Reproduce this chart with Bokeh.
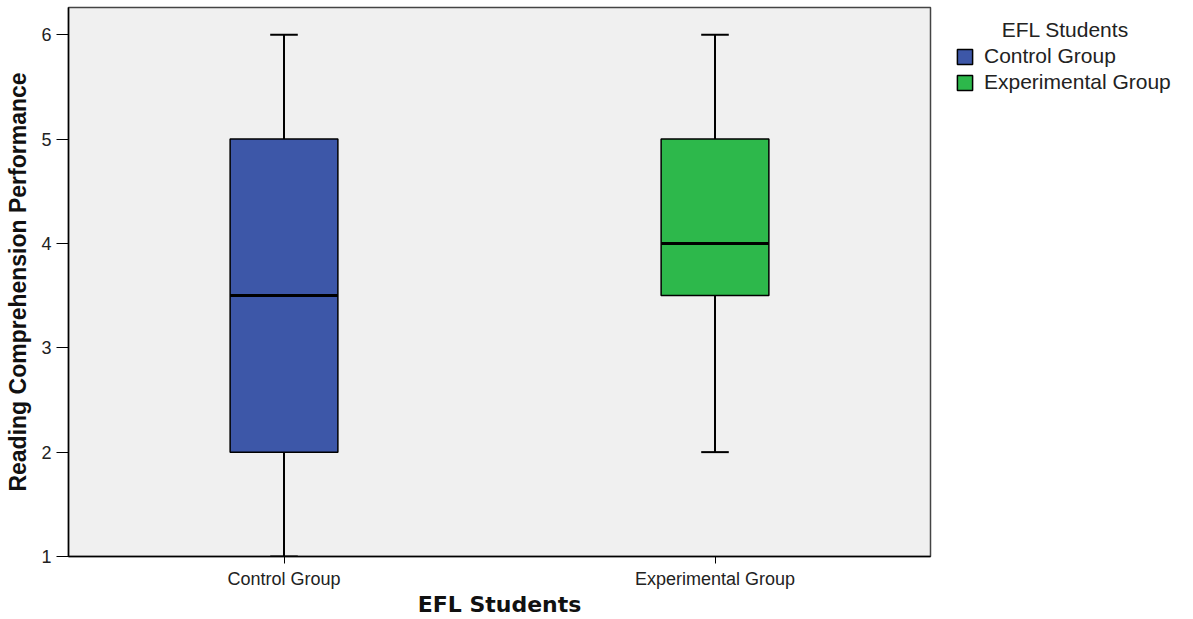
from bokeh.plotting import figure
from bokeh.models import ColumnDataSource, Legend, LegendItem, FactorRange, FixedTicker
from bokeh.transform import dodge
from bokeh.embed import file_html
from bokeh.resources import INLINE

groups = ["Control Group", "Experimental Group"]
mins = [1, 2]
q1s = [2, 3.5]
medians = [3.5, 4]
q3s = [5, 5]
maxs = [6, 6]
colors = ["#3D57A8", "#2DB84B"]
y_ticks = [1, 2, 3, 4, 5, 6]
legend_title = "EFL Students"

src = ColumnDataSource(dict(g=groups, mn=mins, q1=q1s, md=medians, q3=q3s, mx=maxs, c=colors))

p = figure(width=1193, height=619, frame_width=862, frame_height=549,
           x_range=FactorRange(*groups), y_range=(1, 6.26),
           output_backend="svg", toolbar_location=None,
           min_border_left=68, min_border_right=263, min_border_top=7, min_border_bottom=63)
p.background_fill_color = "#F0F0F0"
p.border_fill_color = "white"
p.outline_line_color = "#444444"
p.outline_line_width = 1.5
p.grid.visible = False

# whiskers
p.segment(x0="g", y0="q3", x1="g", y1="mx", source=src, line_color="black", line_width=2)
p.segment(x0="g", y0="mn", x1="g", y1="q1", source=src, line_color="black", line_width=2)
# caps
p.segment(x0=dodge("g", -0.032, range=p.x_range), y0="mx", x1=dodge("g", 0.032, range=p.x_range), y1="mx",
          source=src, line_color="black", line_width=2)
p.segment(x0=dodge("g", -0.032, range=p.x_range), y0="mn", x1=dodge("g", 0.032, range=p.x_range), y1="mn",
          source=src, line_color="black", line_width=2)
# boxes
boxes = []
for i, g in enumerate(groups):
    r = p.vbar(x=[g], bottom=[q1s[i]], top=[q3s[i]], width=0.25, fill_color=colors[i],
               line_color="black", line_width=1.5)
    boxes.append(r)
# medians
p.segment(x0=dodge("g", -0.125, range=p.x_range), y0="md", x1=dodge("g", 0.125, range=p.x_range), y1="md",
          source=src, line_color="black", line_width=3)

# axes
p.yaxis.ticker = FixedTicker(ticks=y_ticks)
p.yaxis.minor_tick_line_color = None
p.yaxis.major_tick_in = 0
p.yaxis.major_tick_out = 12
p.yaxis.major_label_standoff = 5
p.yaxis.axis_line_color = "black"
p.yaxis.axis_line_width = 1.5
p.yaxis.major_label_text_font = "Liberation Sans"
p.yaxis.major_label_text_font_size = "18px"
p.yaxis.major_label_text_color = "#222222"
p.yaxis.axis_label = "Reading Comprehension Performance"
p.yaxis.axis_label_text_font = "Liberation Sans"
p.yaxis.axis_label_text_font_style = "bold"
p.yaxis.axis_label_text_font_size = "23px"
p.yaxis.axis_label_text_color = "#111111"
p.yaxis.axis_label_standoff = 7

p.xaxis.major_tick_in = 0
p.xaxis.major_tick_out = 7
p.xaxis.major_label_standoff = 5
p.xaxis.axis_line_color = "black"
p.xaxis.axis_line_width = 1.5
p.xaxis.major_label_text_font = "Liberation Sans"
p.xaxis.major_label_text_font_size = "18px"
p.xaxis.major_label_text_color = "#222222"
p.xaxis.axis_label = "EFL Students"
p.xaxis.axis_label_text_font = "DejaVu Sans"
p.xaxis.axis_label_text_font_style = "bold"
p.xaxis.axis_label_text_font_size = "22px"
p.xaxis.axis_label_text_color = "#111111"
p.xaxis.axis_label_standoff = 0

legend = Legend(items=[LegendItem(label=groups[i], renderers=[boxes[i]]) for i in range(2)],
                title="\u00a0" * 8 + legend_title, location=(25, 462))
legend.title_text_font = "Liberation Sans"
legend.title_text_font_size = "21px"
legend.title_text_font_style = "normal"
legend.title_text_color = "#222222"
legend.title_standoff = 2
legend.label_text_font = "Liberation Sans"
legend.label_text_font_size = "21px"
legend.label_text_color = "#222222"
legend.glyph_width = 19
legend.glyph_height = 19
legend.label_height = 22
legend.label_standoff = 10
legend.spacing = 2
legend.padding = 4
legend.margin = 0
legend.border_line_color = None
legend.background_fill_alpha = 0
p.add_layout(legend, "right")

open("out.html", "w").write(file_html(p, INLINE))
